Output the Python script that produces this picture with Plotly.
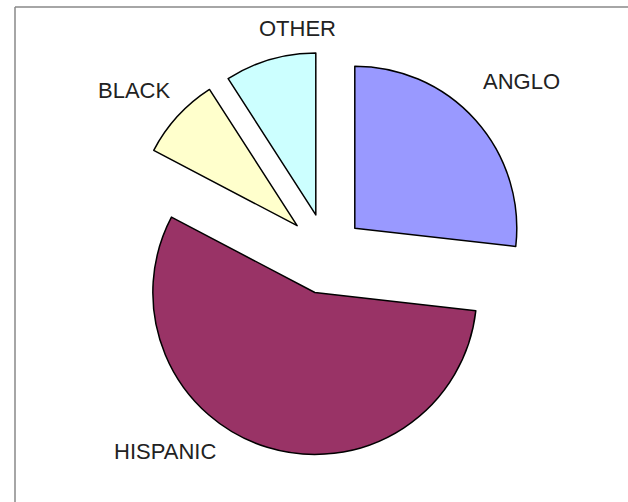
import plotly.graph_objects as go

labels = ["ANGLO", "HISPANIC", "BLACK", "OTHER"]
values = [26.8, 55.9, 8.2, 9.1]
colors = ["#9999FF", "#993366", "#FFFFCC", "#CCFFFF"]
pulls = [0.23, 0.255, 0.25, 0.245]

# label positions (paper coords)
label_x = [521 / 628, 165 / 628, 134 / 628, 297 / 628]
label_y = [1 - 82 / 502, 1 - 451 / 502, 1 - 90 / 502, 1 - 29 / 502]

W, H = 628, 502
cx, cy = 327, 253
r = 162
half = r * (1 + max(pulls))

fig = go.Figure(go.Pie(
    labels=labels,
    values=values,
    sort=False,
    direction="clockwise",
    rotation=0,
    pull=pulls,
    textinfo="none",
    hoverinfo="label+percent",
    marker=dict(colors=colors, line=dict(color="#000000", width=1.5)),
    domain=dict(x=[(cx - half) / W, (cx + half) / W],
                y=[(H - cy - half) / H, (H - cy + half) / H]),
    showlegend=False,
))

for lab, x, y in zip(labels, label_x, label_y):
    fig.add_annotation(x=x, y=y, xref="paper", yref="paper", text=lab,
                       showarrow=False, xanchor="center", yanchor="middle",
                       font=dict(family="Liberation Sans, Arial", size=22, color="#222222"))

# frame lines (top and left)
fig.add_shape(type="line", xref="paper", yref="paper",
              x0=15 / W, x1=1, y0=1 - 7 / H, y1=1 - 7 / H,
              line=dict(color="#888888", width=1.5))
fig.add_shape(type="line", xref="paper", yref="paper",
              x0=15 / W, x1=15 / W, y0=0, y1=1 - 7 / H,
              line=dict(color="#888888", width=1.5))

fig.update_layout(width=W, height=H, margin=dict(l=0, r=0, t=0, b=0),
                  paper_bgcolor="white", plot_bgcolor="white")

fig.write_html("out.html")
